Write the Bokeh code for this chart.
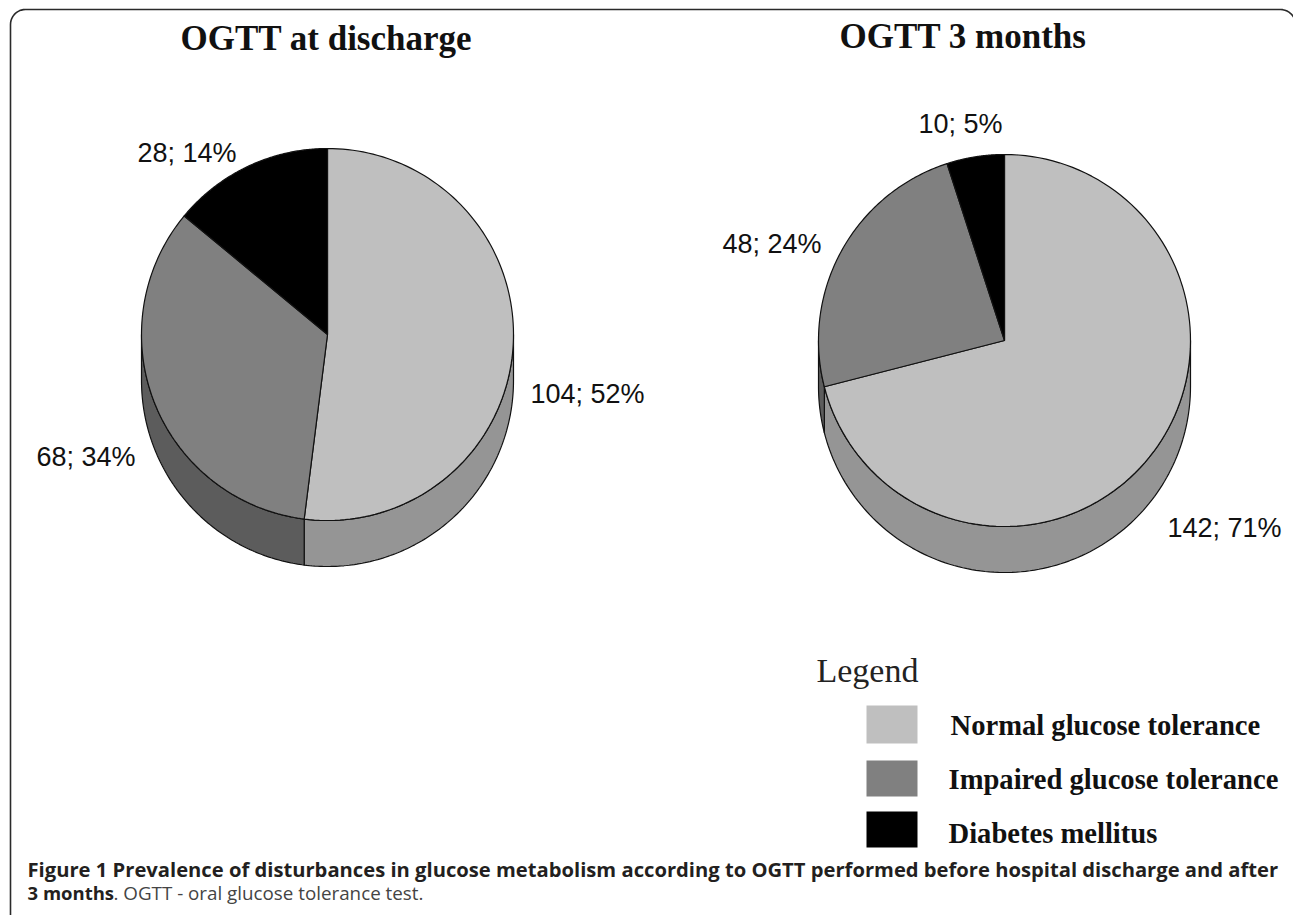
import numpy as np
from bokeh.plotting import figure
from bokeh.models import Range1d
from bokeh.core.properties import value
from bokeh.embed import file_html
from bokeh.resources import INLINE

categories = ["Normal glucose tolerance", "Impaired glucose tolerance", "Diabetes mellitus"]
discharge = [104, 68, 28]
months3 = [142, 48, 10]
discharge_labels = ["104; 52%", "68; 34%", "28; 14%"]
months3_labels = ["142; 71%", "48; 24%", "10; 5%"]
top_colors = ["#bfbfbf", "#808080", "#000000"]
wall_colors = ["#959595", "#5c5c5c", "#000000"]
W, H = 1293, 915
R = 186
DEPTH = 46

p = figure(width=W, height=H, output_backend="svg", toolbar_location=None,
           x_range=Range1d(0, W), y_range=Range1d(H, 0), min_border=0)
p.axis.visible = False
p.grid.visible = False
p.outline_line_color = None
p.background_fill_color = "white"

def arc(cx, cy, a0, a1, r=R, n=120):
    # a measured clockwise from top, screen coords (y down)
    t = np.radians(np.linspace(a0, a1, n))
    return cx + r*np.sin(t), cy - r*np.cos(t)

def pie(cx, cy, vals):
    vals = np.array(vals, float)
    edges = np.concatenate([[0], np.cumsum(vals)/vals.sum()*360])
    # side walls: visible only between 90 and 270 degrees
    for i in range(len(vals)):
        a0, a1 = max(edges[i], 90), min(edges[i+1], 270)
        if a1 > a0:
            xs, ys = arc(cx, cy, a0, a1)
            px = np.concatenate([xs, xs[::-1]])
            py = np.concatenate([ys + DEPTH, ys[::-1]])
            p.patch(px, py, fill_color=wall_colors[i], line_color="#111111", line_width=1.2)
    for i in range(len(vals)):
        xs, ys = arc(cx, cy, edges[i], edges[i+1])
        px = np.concatenate([[cx], xs])
        py = np.concatenate([[cy], ys])
        p.patch(px, py, fill_color=top_colors[i], line_color="#111111", line_width=1.2)

pie(327, 334, discharge)
pie(1004, 340, months3)

def txt(x, y, s, font, size, style="normal", color="#111111"):
    p.text([x], [y], text=[s], text_font=value(font), text_font_size=f"{size}px",
           text_font_style=style, text_color=color, text_align="left", text_baseline="alphabetic")

txt(180, 38, "OGTT at discharge", "Liberation Serif", 35, "bold")
txt(839, 36, "OGTT 3 months", "Liberation Serif", 35, "bold")
for (x, y), s in zip([(530, 393), (36, 456), (137, 152)], discharge_labels):
    txt(x, y, s, "Liberation Sans", 27)
for (x, y), s in zip([(1167, 527), (722, 243), (918, 123)], months3_labels):
    txt(x, y, s, "Liberation Sans", 27)

txt(816, 670, "Legend", "Liberation Serif", 34, color="#222222")
sw_y = [(705, 743), (760, 796), (811, 847)]
txt_y = [725, 779, 833]
txt_x = [950, 948, 948]
for (y0, y1), ty, tx, c, s in zip(sw_y, txt_y, txt_x, top_colors, categories):
    p.quad(left=[866], right=[917], top=[y0], bottom=[y1], fill_color=c, line_color=None)
    txt(tx, ty, s, "Liberation Serif", 28.6, "bold")

# rounded frame of the figure
t0 = np.radians(np.linspace(180, 90, 12))
t1 = np.radians(np.linspace(90, 30, 8))
fx = np.concatenate([[10], 25 + 15*np.cos(t0), 1280 + 15*np.cos(t1)])
fy = np.concatenate([[915], 24 - 15*np.sin(t0), 24 - 15*np.sin(t1)])
p.line(fx, fy, line_color="#2a2a2a", line_width=1.6)

line1 = "Figure 1 Prevalence of disturbances in glucose metabolism according to OGTT performed before hospital discharge and after"
txt(27, 868, line1, "Open Sans", 20.2, "bold", "#231f20")
txt(27, 892, "3 months", "Open Sans", 18.5, "bold", "#231f20")
txt(113, 892, ". OGTT - oral glucose tolerance test.", "Open Sans", 18.8, "normal", "#444444")

open("out.html", "w").write(file_html(p, INLINE))
